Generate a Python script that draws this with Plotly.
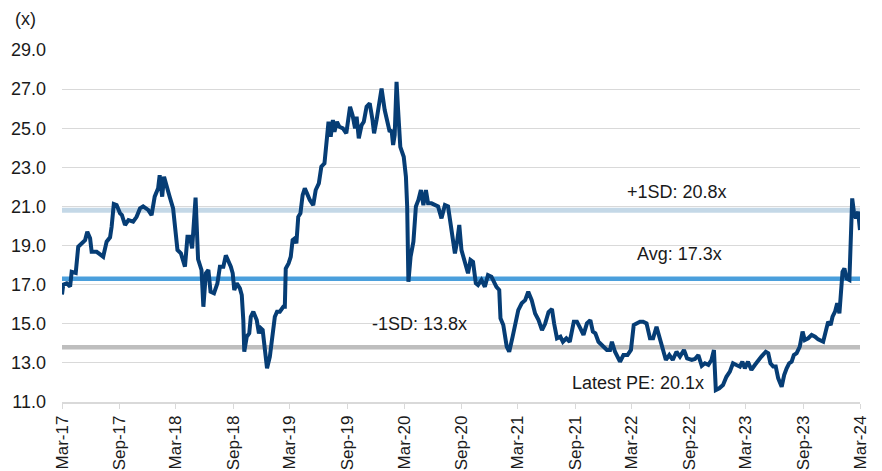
import plotly.graph_objects as go

# ---- data ----
dates = [
    "2017-03-01","2017-03-05","2017-03-16","2017-03-27","2017-04-01","2017-04-14","2017-04-22","2017-05-03",
    "2017-05-14","2017-05-21","2017-05-30","2017-06-04","2017-06-20","2017-07-11","2017-07-22","2017-08-02",
    "2017-08-07","2017-08-14","2017-08-23",
    "2017-09-03","2017-09-09","2017-09-19","2017-09-30","2017-10-15","2017-10-26","2017-11-06","2017-11-16",
    "2017-12-02","2017-12-13","2017-12-23","2018-01-03","2018-01-08","2018-01-16","2018-01-22","2018-01-30",
    "2018-02-09","2018-02-20","2018-02-27",
    "2018-03-06","2018-03-17","2018-03-30","2018-04-07","2018-04-15","2018-04-22","2018-05-03","2018-05-11",
    "2018-05-22","2018-05-28","2018-06-05","2018-06-13","2018-06-20","2018-07-01","2018-07-12","2018-07-20",
    "2018-07-31","2018-08-08","2018-08-16","2018-08-24","2018-08-30",
    "2018-09-04","2018-09-12","2018-09-22","2018-09-28","2018-10-03","2018-10-06","2018-10-14","2018-10-22",
    "2018-10-27","2018-11-04","2018-11-15","2018-11-22","2018-11-28","2018-12-04","2018-12-11","2018-12-18",
    "2018-12-27","2019-01-05","2019-01-12","2019-01-19","2019-01-28","2019-02-08","2019-02-13","2019-02-16",
    "2019-02-25",
    "2019-03-04","2019-03-10","2019-03-17","2019-03-22","2019-03-28","2019-04-04","2019-04-11","2019-04-18",
    "2019-04-25","2019-05-04","2019-05-15","2019-05-23","2019-06-02","2019-06-10","2019-06-20","2019-06-26",
    "2019-07-03","2019-07-10","2019-07-17","2019-07-22","2019-07-30","2019-08-07","2019-08-18","2019-08-29",
    "2019-09-10","2019-09-18","2019-09-26","2019-10-01","2019-10-08","2019-10-17","2019-10-24","2019-11-02",
    "2019-11-12","2019-11-21","2019-11-26","2019-12-04","2019-12-12","2019-12-20","2019-12-30","2020-01-10",
    "2020-01-15","2020-01-21","2020-01-26","2020-01-31","2020-02-06","2020-02-11","2020-02-18","2020-02-29",
    "2020-03-07","2020-03-11","2020-03-15","2020-03-22","2020-03-31","2020-04-08","2020-04-16","2020-04-24",
    "2020-05-02","2020-05-10","2020-05-17","2020-05-28","2020-06-08","2020-06-18","2020-06-29","2020-07-10",
    "2020-07-20","2020-07-31","2020-08-11","2020-08-18","2020-08-25",
    "2020-09-01","2020-09-12","2020-09-22","2020-09-30","2020-10-08","2020-10-17","2020-10-24","2020-11-04",
    "2020-11-15","2020-11-25","2020-12-06","2020-12-22","2020-12-31","2021-01-04","2021-01-13","2021-01-24",
    "2021-02-01","2021-02-12","2021-02-22",
    "2021-03-02","2021-03-13","2021-03-24","2021-04-03","2021-04-14","2021-04-25","2021-05-06","2021-05-17",
    "2021-05-27","2021-06-07","2021-06-18","2021-06-25","2021-07-04","2021-07-15","2021-07-23","2021-08-03",
    "2021-08-14","2021-08-27",
    "2021-09-06","2021-09-17","2021-09-27","2021-10-08","2021-10-19","2021-10-27","2021-11-04","2021-11-14",
    "2021-11-30","2021-12-11","2021-12-21","2021-12-27","2022-01-06","2022-01-14","2022-01-22","2022-02-02",
    "2022-02-15","2022-02-26",
    "2022-03-07","2022-03-16","2022-03-27","2022-04-06","2022-04-17","2022-04-28","2022-05-08","2022-05-19",
    "2022-05-28","2022-06-08","2022-06-18","2022-06-29","2022-07-10","2022-07-22","2022-08-02","2022-08-15",
    "2022-08-25",
    "2022-09-09","2022-09-19","2022-09-30","2022-10-11","2022-10-21","2022-11-01","2022-11-11","2022-11-19",
    "2022-11-25","2022-12-06","2022-12-18","2022-12-29","2023-01-09","2023-01-19","2023-01-30","2023-02-10",
    "2023-02-18","2023-02-26",
    "2023-03-08","2023-03-19","2023-03-30","2023-04-09","2023-04-20","2023-05-04","2023-05-12","2023-05-19",
    "2023-05-28","2023-06-05","2023-06-13","2023-06-24","2023-07-02","2023-07-10","2023-07-18","2023-07-26",
    "2023-08-02","2023-08-11","2023-08-21","2023-08-30",
    "2023-09-06","2023-09-17","2023-09-28","2023-10-09","2023-10-19","2023-11-04","2023-11-13","2023-11-20",
    "2023-11-28","2023-12-04","2023-12-12","2023-12-19","2023-12-26","2023-12-30","2024-01-05","2024-01-11",
    "2024-01-18","2024-01-27","2024-01-29","2024-02-01","2024-02-05","2024-02-11","2024-02-17","2024-02-24",
    "2024-03-01",
]
pe = [
    16.5,17.0,17.07,16.9,17.66,17.6,18.94,19.1,
    19.28,19.7,19.37,18.68,18.68,18.43,19.2,19.42,
    19.96,21.12,21.07,
    20.65,20.56,20.05,20.3,20.22,20.47,20.9,21.0,
    20.82,20.56,21.5,21.93,22.6,21.5,22.52,22.0,
    21.5,20.9,19.62,
    18.77,18.6,17.92,19.45,19.45,18.86,21.45,18.3,
    17.75,15.87,17.58,17.75,16.64,16.56,17.07,17.92,
    17.92,18.5,18.26,17.92,17.58,
    16.73,17.07,16.81,16.47,15.19,13.57,14.34,14.51,
    15.36,15.62,15.19,14.51,14.77,14.68,13.83,12.72,
    13.32,14.34,15.36,15.62,15.62,15.87,15.87,17.83,
    18.09,
    18.43,19.28,19.37,19.11,20.47,20.65,21.58,21.93,
    21.67,21.33,21.07,21.84,22.18,23.03,23.2,24.22,
    25.33,24.56,25.42,24.82,25.33,25.07,24.99,24.74,
    26.1,25.67,24.99,25.59,24.48,25.16,25.33,26.1,
    26.27,25.42,24.74,25.42,26.27,27.03,25.93,25.07,
    24.82,24.91,24.14,24.65,27.37,25.93,24.05,23.54,
    22.52,21.0,17.15,18.43,19.2,21.0,21.33,21.84,
    21.07,21.84,21.16,21.16,21.07,21.0,20.39,21.07,
    21.0,19.79,18.6,19.2,20.05,
    18.77,18.09,17.58,18.26,18.17,17.07,16.98,17.24,
    16.89,17.49,17.41,16.89,16.73,15.28,14.94,13.83,
    13.57,14.34,15.19,
    15.7,16.05,16.21,16.64,16.21,15.53,15.19,14.68,
    15.0,15.6,15.75,15.0,14.26,14.34,14.08,14.26,
    14.08,15.11,
    15.11,14.77,14.43,15.02,15.19,14.6,14.51,14.08,
    13.83,13.66,13.66,14.08,13.57,13.32,13.06,13.4,
    13.4,13.66,
    14.94,15.02,15.11,15.11,15.02,14.26,14.26,14.85,
    14.34,13.74,13.15,13.4,13.15,13.57,13.32,13.66,
    13.23,
    13.15,13.2,13.4,12.85,12.98,12.9,13.15,13.66,
    11.61,11.7,11.87,12.29,12.55,12.98,12.89,12.81,
    13.06,12.72,
    13.06,12.64,12.89,13.06,13.32,13.57,13.49,12.98,
    12.81,12.81,12.21,11.78,12.38,12.72,12.98,13.06,
    13.4,13.5,13.83,14.6,
    14.17,14.26,14.43,14.34,14.2,14.08,14.6,15.11,
    14.94,15.36,15.62,16.05,15.53,16.73,17.66,17.83,
    17.32,17.24,18.52,19.88,21.41,20.65,20.39,20.73,
    19.79,
]
avg_pe = 17.3
plus_sd = 20.8
minus_sd = 13.8
latest_pe = 20.1

x_start = "2017-03-01"
x_end = "2024-03-01"
tick_dates = ["2017-03-01","2017-09-01","2018-03-01","2018-09-01","2019-03-01","2019-09-01","2020-03-01",
              "2020-09-01","2021-03-01","2021-09-01","2022-03-01","2022-09-01","2023-03-01","2023-09-01","2024-03-01"]
tick_labels = ["Mar-17","Sep-17","Mar-18","Sep-18","Mar-19","Sep-19","Mar-20",
               "Sep-20","Mar-21","Sep-21","Mar-22","Sep-22","Mar-23","Sep-23","Mar-24"]
y_ticks = [11, 13, 15, 17, 19, 21, 23, 25, 27, 29]

FONT = "Liberation Sans, Arial, sans-serif"
FS = 18

fig = go.Figure()
fig.add_trace(go.Scatter(x=[x_start, x_end], y=[plus_sd, plus_sd], mode="lines",
                         line=dict(color="#C4D8E7", width=5), hoverinfo="skip", showlegend=False))
fig.add_trace(go.Scatter(x=[x_start, x_end], y=[minus_sd, minus_sd], mode="lines",
                         line=dict(color="#BEBEBE", width=4.5), hoverinfo="skip", showlegend=False))
fig.add_trace(go.Scatter(x=[x_start, x_end], y=[avg_pe, avg_pe], mode="lines",
                         line=dict(color="#4A9FDC", width=4.5), hoverinfo="skip", showlegend=False))
fig.add_trace(go.Scatter(x=dates, y=pe, mode="lines",
                         line=dict(color="#063D75", width=4), showlegend=False))

ann_font = dict(family=FONT, size=FS, color="#1a1a1a")
fig.add_annotation(x="2022-07-23", y=plus_sd, yshift=18, text=f"+1SD: {plus_sd:.1f}x",
                   showarrow=False, font=ann_font)
fig.add_annotation(x="2022-08-02", y=avg_pe, yshift=25, text=f"Avg: {avg_pe:.1f}x",
                   showarrow=False, font=ann_font)
fig.add_annotation(x="2020-04-19", y=minus_sd, yshift=23, text=f"-1SD: {minus_sd:.1f}x",
                   showarrow=False, font=ann_font)
fig.add_annotation(x="2022-03-20", y=11, yshift=19, text=f"Latest PE: {latest_pe:.1f}x",
                   showarrow=False, font=ann_font)
fig.add_annotation(xref="paper", yref="paper", x=-0.0615, y=1.0, yshift=31, text="(x)",
                   xanchor="left", yanchor="middle", showarrow=False, font=ann_font)

fig.update_layout(
    width=882, height=471,
    margin=dict(l=62, r=22, t=50, b=69),
    plot_bgcolor="white", paper_bgcolor="white",
    font=dict(family=FONT, size=FS, color="#1a1a1a"),
    xaxis=dict(type="date", range=[x_start, x_end], tickvals=tick_dates, ticktext=tick_labels,
               tickangle=-90, showgrid=False, showline=True, linecolor="#D9D9D9", linewidth=1.5,
               ticks="outside", ticklen=5, tickcolor="#D9D9D9", tickfont=dict(size=17),
               automargin=False, zeroline=False, fixedrange=True),
    yaxis=dict(range=[11, 29], tickvals=y_ticks, ticktext=[f"{v:.1f}" for v in y_ticks],
               showgrid=True, gridcolor="#D9D9D9", gridwidth=1, showline=False, zeroline=False,
               ticks="", ticklabelstandoff=15, tickfont=dict(size=FS), automargin=False,
               fixedrange=True),
)

fig.write_html("out.html", config={"displayModeBar": False},
               post_script="document.body.style.margin='0';document.body.style.overflow='hidden';")
